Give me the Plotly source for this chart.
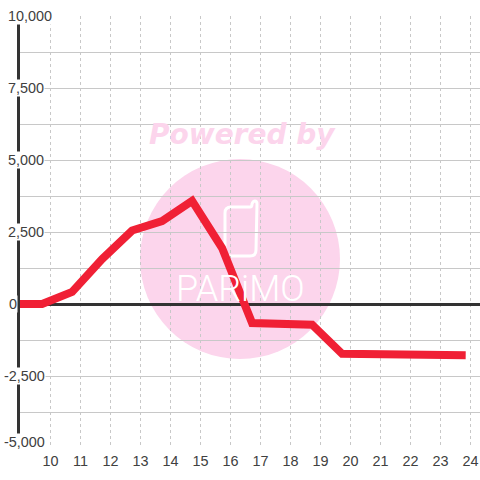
import plotly.graph_objects as go

x_values = [8.89, 9.72, 10.72, 11.72, 12.72, 13.72, 14.72, 15.72, 16.72, 17.72, 18.72, 19.72, 20.72, 21.72, 22.72, 23.84]
y_values = [0, 0, 420, 1560, 2550, 2880, 3580, 1940, -660, -710, -720, -1730, -1730, -1740, -1770, -1780]
x_ticks = list(range(10, 25))
y_grid = [-5000, -3750, -2500, -1250, 0, 1250, 2500, 3750, 5000, 6250, 7500, 8750, 10000]
y_labels = {10000: "10,000", 7500: "7,500", 5000: "5,000", 2500: "2,500", 0: "0", -2500: "-2,500", -5000: "-5,000"}

W = H = 480
L, R, T, B = 20, 480, 16, 448
FONT = "Liberation Sans"
TEXT = "#404040"
PINK = "#fcd5ec"
def px(v): return (v - L) / (R - L)
def py(v): return (B - v) / (B - T)
def pth(parts):
    out = []
    for p in parts:
        if isinstance(p, str):
            out.append(p)
        else:
            out.append(f"{px(p[0]):.5f},{py(p[1]):.5f}")
    return " ".join(out)

fig = go.Figure()
fig.add_trace(go.Scatter(x=x_values, y=y_values, mode="lines", cliponaxis=False,
                         line=dict(color="#f02035", width=8), hoverinfo="skip"))

ann = []
for v, t in y_labels.items():
    left = 2.6 if v < 0 else (8 if v == 0 else 7)
    ann.append(dict(xref="paper", yref="y", x=px(left), y=v, text=t, showarrow=False, xanchor="left",
                    yanchor="middle", yshift=6 if v == -5000 else 0, bgcolor="white", borderpad=0,
                    font=dict(family=FONT, size=14.4, color=TEXT)))
ann.append(dict(xref="paper", yref="paper", x=px(242), y=py(134), text="<b><i>Powered by</i></b>", showarrow=False,
                xanchor="center", yanchor="middle", font=dict(family="DejaVu Sans", size=28, color=PINK)))
ann.append(dict(xref="paper", yref="paper", x=px(240), y=py(289), text="PARiMO", showarrow=False,
                xanchor="center", yanchor="middle", font=dict(family="Roboto", size=36, color="white", weight=300)))

phone = pth(["M", (225, 213), "Q", (225, 207), (231, 207), "L", (250, 207), "Q", (252, 207), (252, 204),
             "Q", (253, 201), (255, 201), "Q", (257, 201), (257, 204), "L", (256, 250),
             "Q", (256, 256), (250, 256), "L", (231, 256), "Q", (225, 256), (225, 250), "Z"])
shapes = [
    dict(type="circle", xref="paper", yref="paper", x0=px(140), x1=px(340), y0=py(359), y1=py(159),
         fillcolor=PINK, line_width=0, layer="below"),
    dict(type="path", xref="paper", yref="paper", path=phone, line=dict(color="white", width=3), layer="below"),
]

fig.update_layout(
    width=W, height=H, margin=dict(l=L, r=W - R, t=T, b=H - B), autosize=False,
    paper_bgcolor="white", plot_bgcolor="white", showlegend=False,
    font=dict(family=FONT, size=14.4, color=TEXT), annotations=ann, shapes=shapes,
    xaxis=dict(range=[8.983, 24.317], tickvals=x_ticks, showgrid=True, gridcolor="#c8c8c8", griddash="3px,3px",
               gridwidth=1, zeroline=False, showline=False, ticks="", ticklabelstandoff=3,
               tickfont=dict(family=FONT, size=14.4, color=TEXT)),
    yaxis=dict(range=[-5000, 10000], tickvals=y_grid, showgrid=True, gridcolor="#c8c8c8", gridwidth=1,
               zeroline=True, zerolinecolor="#333333", zerolinewidth=3, showticklabels=False, ticks="",
               showline=True, linecolor="#333333", linewidth=3, layer="below traces"),
)
fig.write_html("out.html", config=dict(displayModeBar=False), post_script="document.body.style.margin='0';")
